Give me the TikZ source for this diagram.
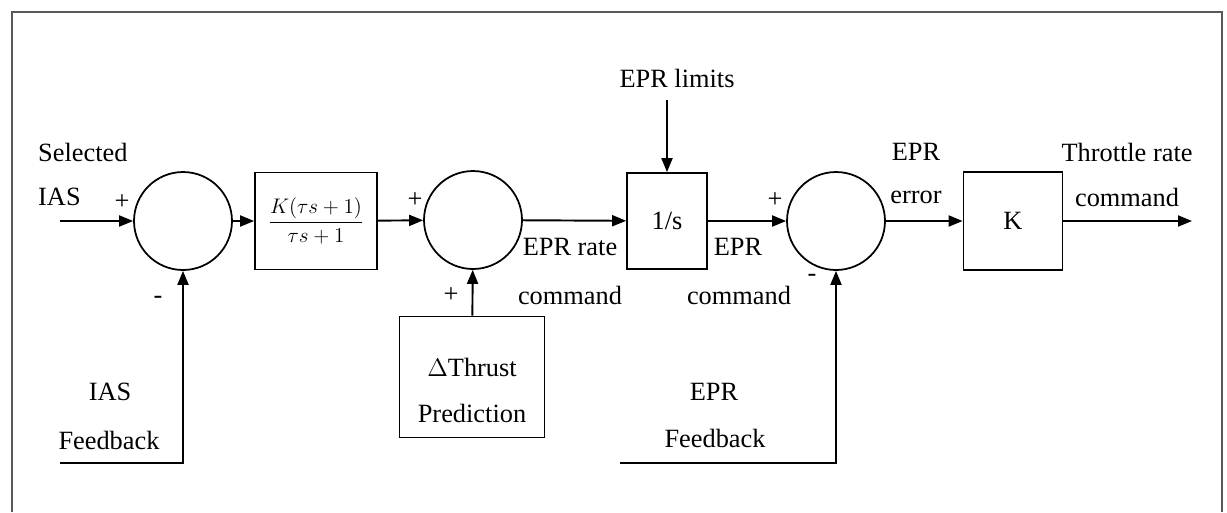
\documentclass[tikz,border=0pt]{standalone}
\usepackage{amsmath}
\usepackage{fontspec}
\setmainfont{Liberation Serif}
\usetikzlibrary{arrows.meta}

\tikzset{
  sumnode/.style={draw, circle, line width=1pt, minimum size=1.96cm, inner sep=0pt},
  blk/.style={draw, line width=1pt, inner sep=0pt, align=center},
  sig/.style={line width=1.1pt, -{Triangle[length=0.28cm,width=0.22cm]}},
}

\begin{document}
\begin{tikzpicture}[x=0.02cm, y=-0.02cm, font=\fontsize{15}{18}\selectfont]
				\useasboundingbox (0,0) rectangle (1227,512);
				\draw[gray!70!black, line width=1.5pt] (12,512) -- (12,12) -- (1222,12) -- (1222,512);
				
				\node[sumnode] (sumias) at (183,221) {};
				\node[blk, minimum width=2.44cm, minimum height=1.94cm, font=\fontsize{12}{14}\selectfont] (lead) at (316,221) {$\dfrac{K(\tau s+1)}{\tau s+1}$};
				\node[sumnode] (sumrate) at (473,220) {};
				\node[blk, minimum width=2.9cm, minimum height=2.42cm] (thrust) at (472,377) {};
				\node[blk, minimum width=1.6cm, minimum height=1.92cm] (integ) at (667,221) {1/s};
				\node[sumnode] (sumepr) at (836,221) {};
				\node[blk, minimum width=1.98cm, minimum height=1.96cm] (gain) at (1013,221) {K};
				
				\coordinate (iasin) at (60,221);
				\coordinate (iasfb) at (60,463);
				\coordinate (eprlim) at (667,100);
				\coordinate (eprfb) at (620,463);
				\coordinate (thrcmd) at (1192,221);
				
				\draw[sig] (iasin) -- (sumias);
				\draw[sig] (iasfb) -| (sumias);
				\draw[sig] (sumias) -- (lead);
				\draw[sig] (lead) -- (sumrate);
				\draw[sig] (thrust) -- (sumrate);
				\draw[sig] (sumrate) -- (integ);
				\draw[sig] (eprlim) -- (integ);
				\draw[sig] (integ) -- (sumepr);
				\draw[sig] (eprfb) -| (sumepr);
				\draw[sig] (sumepr) -- (gain);
				\draw[sig] (gain) -- (thrcmd);
				
				\node (thrl) at (472,367) {$\Delta$Thrust};
				\node (thrl2) at (472,413) {Prediction};
				\node[anchor=west] (selias) at (32,152) {Selected};
				\node[anchor=west] (selias2) at (32,197) {IAS};
				\node (p1) at (122,202) {+};
				\node (m1) at (158,300) {-};
				\node (iasfbl) at (110,392) {IAS};
				\node (iasfbl2) at (109,440) {Feedback};
				\node (p2) at (415,200) {+};
				\node (p3) at (451,295) {+};
				\node (ratel) at (570,247) {EPR rate};
				\node (ratel2) at (570,295) {command};
				\node (liml) at (677,78) {EPR limits};
				\node (cmdl) at (738,247) {EPR};
				\node (cmdl2) at (739,295) {command};
				\node (p4) at (775,200) {+};
				\node (m2) at (812,278) {-};
				\node (fbl) at (714,392) {EPR};
				\node (fbl2) at (715,438) {Feedback};
				\node (errl) at (916,152) {EPR};
				\node (errl2) at (916,197) {error};
				\node (outl) at (1127,152) {Throttle rate};
				\node (outl2) at (1127,197) {command};
			\end{tikzpicture}
\end{document}
